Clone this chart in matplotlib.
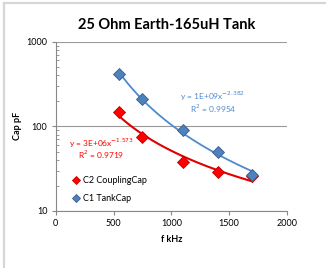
import numpy as np
import matplotlib
matplotlib.use("Agg")
import matplotlib.pyplot as plt
from matplotlib.lines import Line2D

freq_khz = [550, 750, 1100, 1400, 1700]
c1_tank = [412, 209, 90.6, 49.4, 26.6]
c2_coupling = [149, 74.3, 38.2, 29.1, 26.0]
title = "25 Ohm Earth-165uH Tank"
xticks = [0, 500, 1000, 1500, 2000]
yticks = [10, 100, 1000]

plt.rcParams['font.family'] = ['Lato', 'DejaVu Sans']

fig = plt.figure(figsize=(3.26, 2.68), dpi=100)
fig.patch.set_facecolor('white')
W, H = 326, 268
fig.add_artist(Line2D([4 / W, 4 / W], [0, 1 - 3 / H], transform=fig.transFigure,
                      color='#d6d6d6', lw=1.6))
fig.add_artist(Line2D([4 / W, 1], [1 - 3 / H, 1 - 3 / H], transform=fig.transFigure,
                      color='#d6d6d6', lw=1.6))
ax = fig.add_axes([0.171, 0.2127, 0.709, 0.6317])

blue = '#4F81BD'
red = '#FF0000'

def fit(x, y):
    b, a = np.polyfit(np.log(x), np.log(y), 1)
    return np.exp(a), b

xs = np.linspace(min(freq_khz), max(freq_khz), 200)
a1, b1 = fit(freq_khz, c1_tank)
a2, b2 = fit(freq_khz, c2_coupling)
ax.plot(xs, a2 * xs ** b2, color='#E00000', lw=1.5, zorder=2)
ax.plot(xs, a1 * xs ** b1, color='#4F8AD0', lw=1.3, zorder=2)

h2, = ax.plot(freq_khz, c2_coupling, ls='none', marker='D', ms=6.2, mfc=red,
              mec='#C00000', mew=0.6, label='C2 CouplingCap', zorder=3)
h1, = ax.plot(freq_khz, c1_tank, ls='none', marker='D', ms=6.2, mfc=blue,
              mec='#385D8A', mew=0.6, label='C1 TankCap', zorder=4)

ax.set_yscale('log')
ax.set_xlim(0, 2000)
ax.set_ylim(10, 1000)
ax.set_xticks(xticks)
ax.set_xticklabels([str(t) for t in xticks])
ax.set_yticks(yticks)
ax.set_yticklabels([str(t) for t in yticks])
ax.yaxis.set_minor_locator(matplotlib.ticker.LogLocator(base=10, subs=np.arange(2, 10)))
ax.yaxis.set_minor_formatter(matplotlib.ticker.NullFormatter())
ax.tick_params(axis='both', which='major', labelsize=6.5, length=3, color='#888888', pad=3)
ax.tick_params(axis='y', which='minor', direction='in', length=2, color='#888888')
ax.grid(axis='y', which='major', color='#999999', lw=0.8)
for s in ['top', 'right']:
    ax.spines[s].set_visible(False)
for s in ['left', 'bottom']:
    ax.spines[s].set_color('#888888')
    ax.spines[s].set_linewidth(0.8)

ax.set_xlabel('f kHz', fontsize=6.5, fontweight='bold', labelpad=5)
ax.set_ylabel('Cap pF', fontsize=6.5, fontweight='bold', labelpad=3)
fig.text(0.51, 0.905, title, ha='center', va='center', fontsize=10.5, fontweight='bold')

ax.text(392, 63.5, r'y = 3E+06x$^{-1.573}$', color=red, fontsize=6, ha='center', va='center')
ax.text(392, 45.9, r'R$^{2}$ = 0.9719', color=red, fontsize=6, ha='center', va='center')
ax.text(1361, 228, r'y = 1E+09x$^{-2.382}$', color='#4F8AD0', fontsize=6, ha='center', va='center')
ax.text(1361, 163, r'R$^{2}$ = 0.9954', color='#4F8AD0', fontsize=6, ha='center', va='center')

leg = ax.legend(handles=[h2, h1], loc='upper left', bbox_to_anchor=(0.07, 0.205),
                frameon=False, fontsize=6.5, markerscale=0.7, handlelength=0.8,
                handletextpad=0.4, labelspacing=0.95, borderaxespad=0, borderpad=0)

fig.savefig('out.png', dpi=100, facecolor='white')
